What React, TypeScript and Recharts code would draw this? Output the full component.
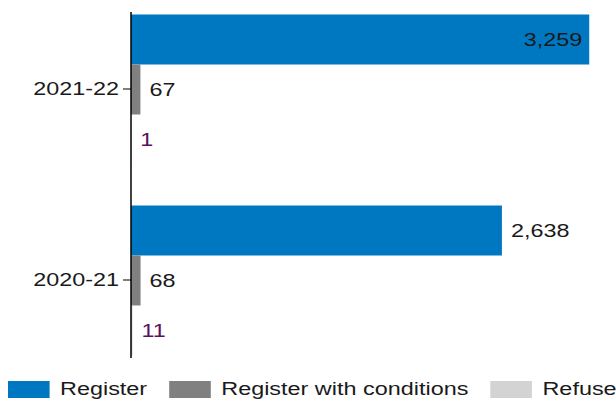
import { Bar, BarChart, LabelList, XAxis, YAxis } from 'recharts';

const years = ['2021-22', '2020-21'];
const register = [3259, 2638];
const registerWithConditions = [67, 68];
const refuse = [1, 11];

const seriesNames = ['Register', 'Register with conditions', 'Refuse'];
const seriesKeys = ['register', 'conditions', 'refuse'];
const seriesColors = ['#0078c1', '#808080', '#d3d3d3'];
const labelColors = ['#1a1a1a', '#1a1a1a', '#5c1060'];

const data = years.map((year, i) => ({
  year,
  register: register[i],
  conditions: registerWithConditions[i],
  refuse: refuse[i],
}));

const FONT = '"Liberation Sans", Arial, sans-serif';
const CHART_W = 616;
// the reference text is drawn wider than a normal sans face
const STRETCH = 1.3;

function makeLabel(color: string) {
  return (props: any) => {
    const { x, y, width, height, value } = props;
    const text = Number(value).toLocaleString('en-US');
    const textW = text.length * 13;
    const end = Number(x) + Number(width);
    const inside = end + 9 + textW > CHART_W - 4;
    const tx = inside ? end - 7 : end + 9;
    const ty = Number(y) + Number(height) / 2;
    return (
      <g transform={`translate(${tx},${ty}) scale(${STRETCH},1)`}>
        <text
          x={0}
          y={0}
          textAnchor={inside ? 'end' : 'start'}
          dominantBaseline="central"
          fill={color}
          fontSize={18}
          fontFamily={FONT}
        >
          {text}
        </text>
      </g>
    );
  };
}

function YearTick(props: any) {
  const { x, y, payload } = props;
  return (
    <g transform={`translate(${x},${y}) scale(${STRETCH},1)`}>
      <text x={0} y={0} textAnchor="end" dominantBaseline="central" fill="#1a1a1a" fontSize={18} fontFamily={FONT}>
        {payload.value}
      </text>
    </g>
  );
}

export default function App() {
  return (
    <div style={{ position: 'absolute', left: 0, top: 0, width: 616, height: 401, background: '#fff' }}>
      <BarChart
        width={616}
        height={370}
        data={data}
        layout="vertical"
        margin={{ top: 12, right: 21, bottom: 12, left: 0 }}
        barSize={50}
        barGap={0}
      >
        <XAxis type="number" domain={[0, 3300]} hide />
        <YAxis
          type="category"
          dataKey="year"
          width={131}
          padding={{ top: -18.5, bottom: -17.5 } as any}
          axisLine={{ stroke: '#000', strokeWidth: 1.5 }}
          tickLine={{ stroke: '#000' }}
          tickSize={8}
          tickMargin={4}
          tick={<YearTick />}
        />
        {seriesKeys.map((key, i) => (
          <Bar key={key} dataKey={key} name={seriesNames[i]} fill={seriesColors[i]} isAnimationActive={false}>
            <LabelList dataKey={key} content={makeLabel(labelColors[i])} />
          </Bar>
        ))}
      </BarChart>
      <div
        style={{
          position: 'absolute',
          left: 8,
          top: 379,
          display: 'flex',
          alignItems: 'center',
          fontFamily: FONT,
          fontSize: 18,
          color: '#1a1a1a',
          whiteSpace: 'nowrap',
          transform: `scaleX(${STRETCH})`,
          transformOrigin: 'left center',
        }}
      >
        {seriesNames.map((name, i) => (
          <div key={name} style={{ display: 'flex', alignItems: 'center', marginRight: 17 }}>
            <span
              style={{ display: 'inline-block', width: 32, height: 17, background: seriesColors[i], marginRight: 8 }}
            />
            <span>{name}</span>
          </div>
        ))}
      </div>
    </div>
  );
}
